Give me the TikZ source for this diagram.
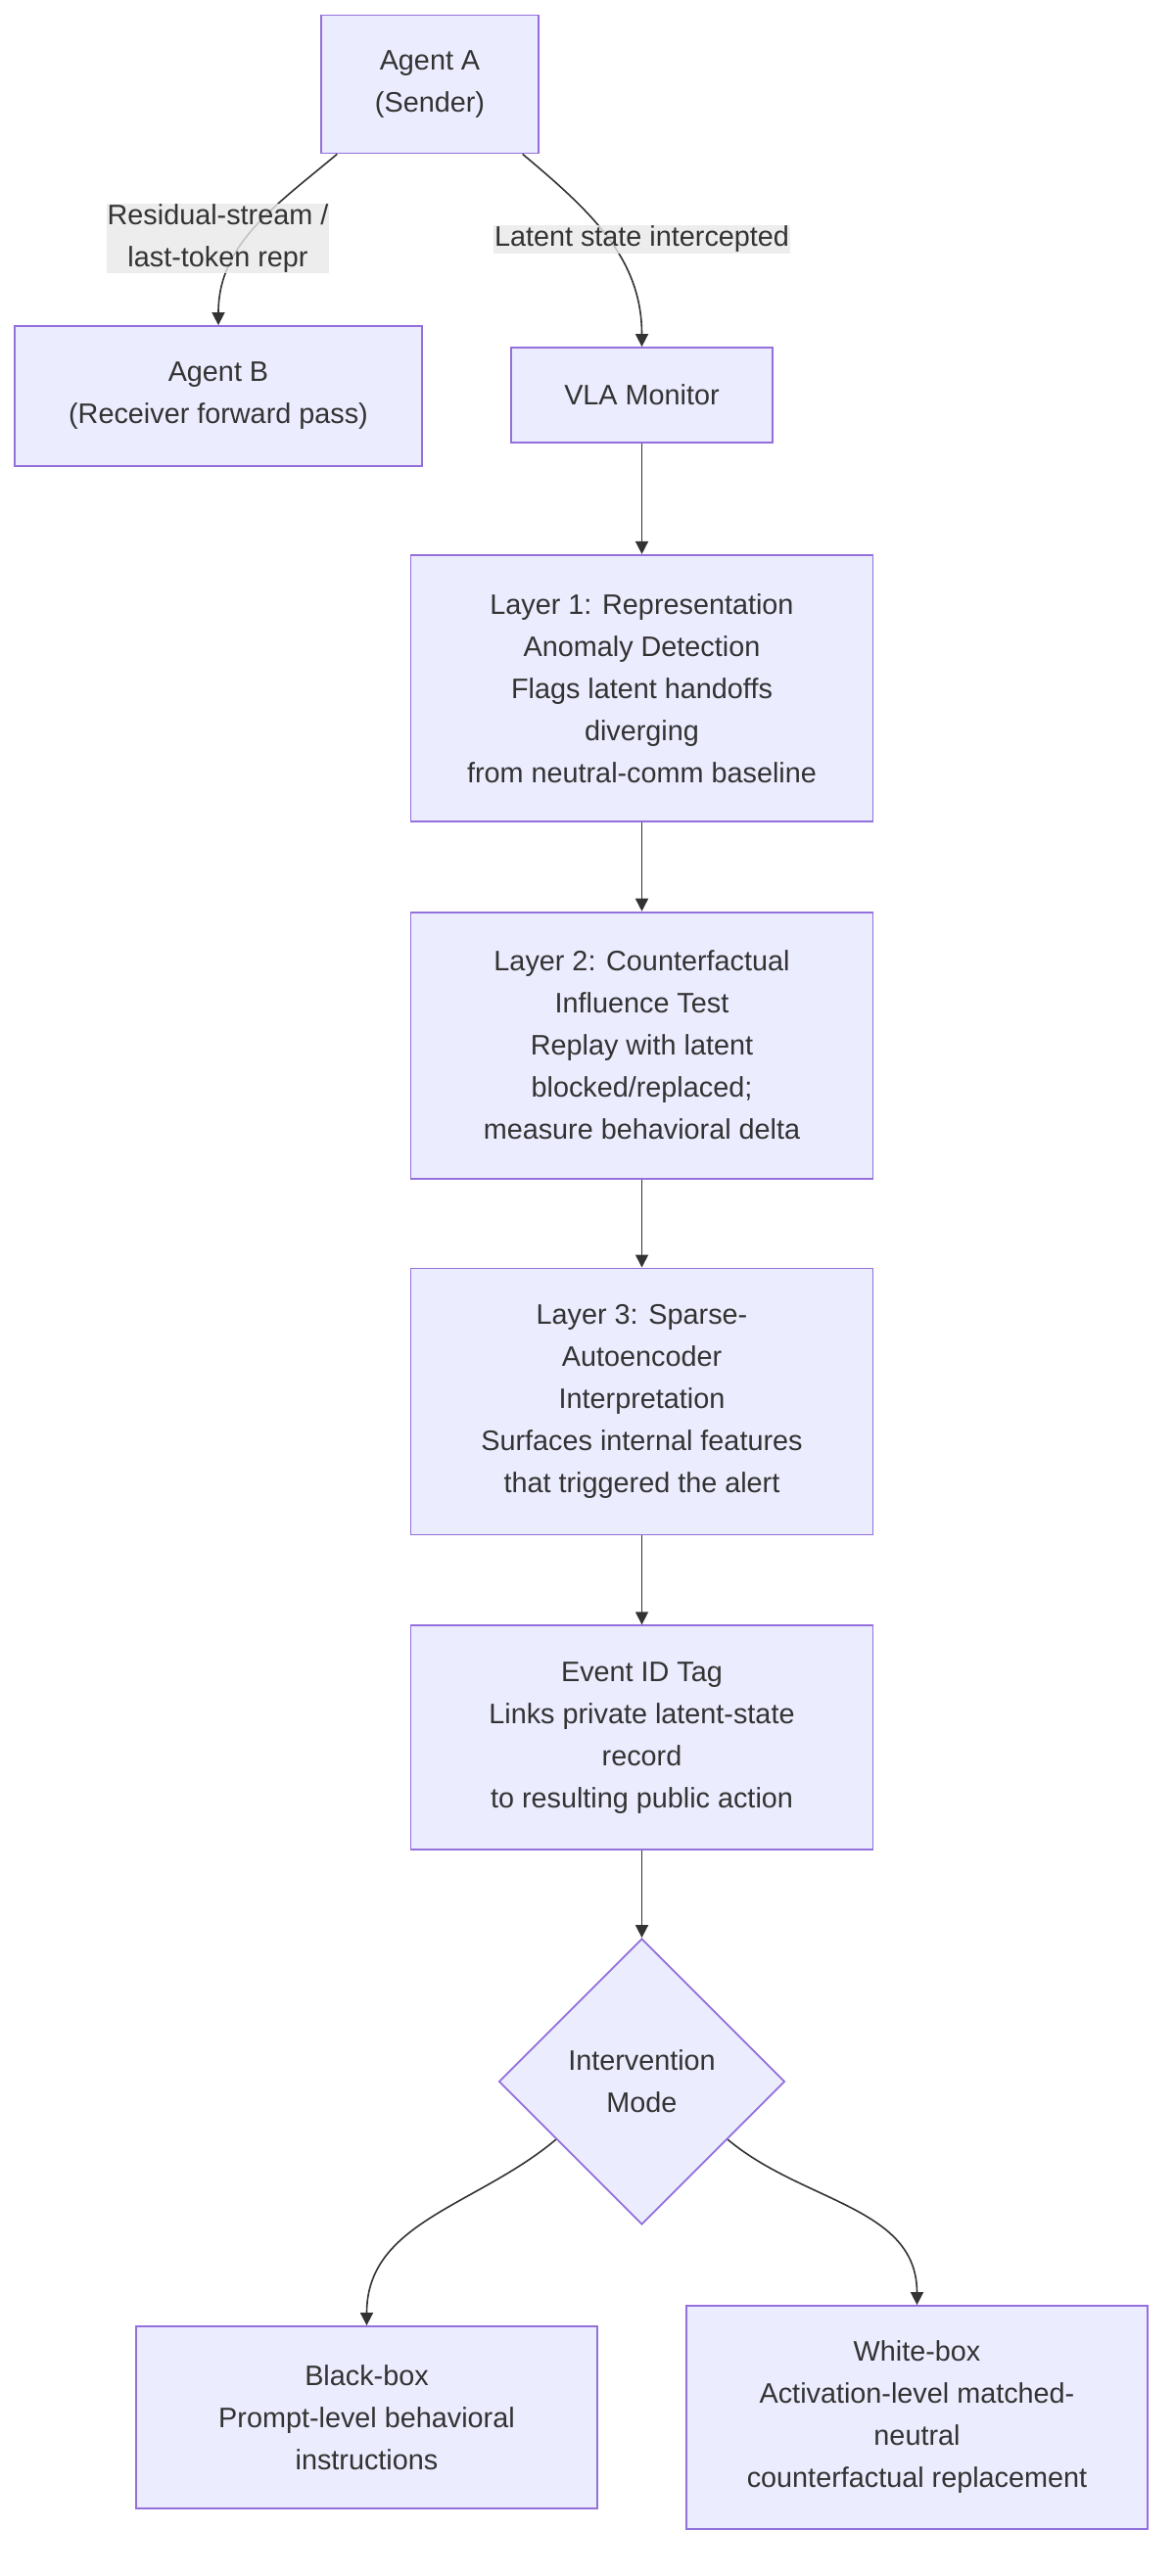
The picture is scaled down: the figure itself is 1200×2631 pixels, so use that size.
\documentclass[tikz,border=0pt]{standalone}
\usepackage{fontspec}
\setmainfont{Liberation Sans}
\usetikzlibrary{shapes.geometric, arrows.meta}
\usetikzlibrary{positioning}
\definecolor{boxfill}{HTML}{ECECFF}
\definecolor{boxline}{HTML}{9370DB}
\definecolor{inkgray}{HTML}{333333}
\definecolor{labelgray}{HTML}{E8E8E8}
\tikzstyle{block} = [rectangle, minimum width=236pt, minimum height=136pt, inner sep=0pt, align=center, text=inkgray, draw=boxline, fill=boxfill, line width=0.9pt, font=\fontsize{14.4}{21.5}\selectfont]
\tikzstyle{decision} = [diamond, aspect=1, minimum width=146pt, minimum height=146pt, inner sep=0pt, align=center, text=inkgray, draw=boxline, fill=boxfill, line width=0.9pt, font=\fontsize{14.4}{21.5}\selectfont]
\tikzstyle{edgelabel} = [rectangle, inner xsep=0.5pt, inner ysep=0.5pt, align=center, text=inkgray, fill=labelgray, fill opacity=0.8, text opacity=1, font=\fontsize{14.4}{21.5}\selectfont]
\tikzstyle{arrow} = [line width=0.8pt, draw=inkgray, ->, >={Triangle[length=6.5pt,width=6.5pt]}]

\begin{document}
\begin{tikzpicture}[x=0.5pt, y=-0.5pt]
			\useasboundingbox (0,0) rectangle (1200,2631);
			\node(agentA)[block, minimum width=111pt, minimum height=70.5pt] at (439,86) {Agent A\\(Sender)};
			\node(agentB)[block, minimum width=208pt, minimum height=71.5pt] at (223,404.5) {Agent B\\(Receiver forward pass)};
			\node(monitor)[block, minimum width=133.5pt, minimum height=48.5pt] at (655.5,403.5) {VLA Monitor};
			\node(layerone)[block, below=56.5pt of monitor]{Layer 1: Representation\\Anomaly Detection\\Flags latent handoffs\\diverging\\from neutral-comm baseline};
			\node(layertwo)[block, below=45.5pt of layerone]{Layer 2: Counterfactual\\Influence Test\\Replay with latent\\blocked/replaced;\\measure behavioral delta};
			\node(layerthree)[block, below=45pt of layertwo]{Layer 3: Sparse-\\Autoencoder\\Interpretation\\Surfaces internal features\\that triggered the alert};
			\node(eventtag)[block, below=45.5pt of layerthree, minimum height=114.5pt]{Event ID Tag\\Links private latent-state\\record\\to resulting public action};
			\node(mode)[decision, below=44.5pt of eventtag]{Intervention\\Mode};
			\node(blackbox)[block, minimum width=235.5pt, minimum height=93pt] at (374.5,2469) {Black-box\\Prompt-level behavioral\\instructions};
			\node(whitebox)[block, minimum width=235.5pt, minimum height=114pt] at (936.5,2469) {White-box\\Activation-level matched-\\neutral\\counterfactual replacement};

			\draw [arrow] (agentA.-143) to[out=-140, in=90] (agentB.north);
			\draw [arrow] (agentA.-37) to[out=-40, in=90] (monitor.north);
			\draw [arrow] (monitor) -- (layerone);
			\draw [arrow] (layerone) -- (layertwo);
			\draw [arrow] (layertwo) -- (layerthree);
			\draw [arrow] (layerthree) -- (eventtag);
			\draw [arrow] (eventtag) -- (mode);
			\draw [arrow] (mode.-146) to[out=-140, in=90] (blackbox.north);
			\draw [arrow] (mode.-34) to[out=-40, in=90] (whitebox.north);
			% Labels
			\node(residual)[edgelabel] at (222.5,243.5) {Residual-stream /\\last-token repr};
			\node(latent)[edgelabel] at (655.5,244.5) {Latent state intercepted};
		\end{tikzpicture}
\end{document}
